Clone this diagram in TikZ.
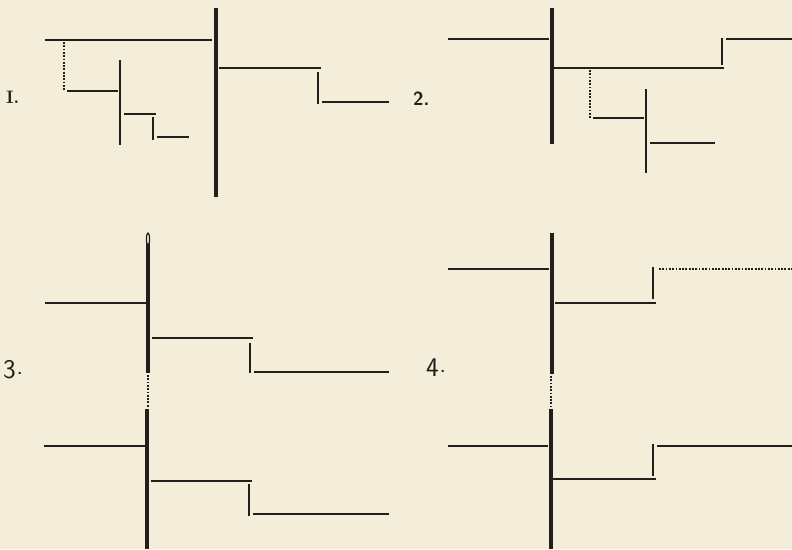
\documentclass[tikz,border=0pt]{standalone}
\usepackage{fontspec}
\definecolor{paper}{RGB}{244,237,218}
\definecolor{ink}{RGB}{35,30,28}
\tikzset{
  stem/.style={ink,line width=3.2pt},
  midstem/.style={ink,line width=2.6pt},
  riser/.style={ink,line width=1.6pt},
  rung/.style={ink,line width=1.3pt},
  dots/.style={ink,line width=1.5pt,dash pattern=on 1.8pt off 1.5pt},
  lab/.style={ink,inner sep=0pt,anchor=base west}
}
\begin{document}
\begin{tikzpicture}[x=1pt,y=-1pt]
\fill[paper] (0,0) rectangle (792,549);
\useasboundingbox (0,0) rectangle (792,549);
% ---------- Figure 1 ----------
\node[lab,font=\fontsize{18}{18}\selectfont\bfseries] (l1) at (6,103) {I.};
\draw[rung] (45,40) -- (212,40);
\draw[stem] (216,8) -- (216,197);
\draw[dots] (64,42) -- (64,91);
\draw[rung] (67,91) -- (118,91);
\draw[midstem] (120,60) -- (120,145);
\draw[rung] (124,114) -- (156,114);
\draw[riser] (153,117) -- (153,140);
\draw[rung] (157,137) -- (189,137);
\draw[rung] (219,68) -- (321,68);
\draw[riser] (318,72) -- (318,104);
\draw[rung] (322,102) -- (389,102);
% ---------- Figure 2 ----------
\node[lab,font=\fontsize{19}{19}\sffamily\bfseries] (l2) at (413,105) {2.};
\draw[rung] (448,39) -- (549,39);
\draw[stem] (552,8) -- (552,144);
\draw[rung] (554,68) -- (724,68);
\draw[riser] (722,38) -- (722,65);
\draw[rung] (726,39) -- (792,39);
\draw[dots] (590,70) -- (590,119);
\draw[rung] (593,118) -- (644,118);
\draw[midstem] (646,89) -- (646,173);
\draw[rung] (650,143) -- (715,143);
% ---------- Figure 3 ----------
\node[lab,font=\fontsize{27}{27}\sffamily] (l3) at (3,378) {3\kern1.5pt\raisebox{0.3ex}{\fontsize{16}{16}\selectfont\bfseries.}};
\draw[stem] (148,236) -- (148,373);
\draw[ink,line width=1.2pt,fill=paper] (148,239) ellipse (1.6pt and 6pt);
\draw[dots] (148,375) -- (148,407);
\draw[stem] (147,409) -- (147,549);
\draw[rung] (45,303) -- (146,303);
\draw[rung] (152,338) -- (253,338);
\draw[riser] (250,343) -- (250,373);
\draw[rung] (254,372) -- (389,372);
\draw[rung] (44,446) -- (145,446);
\draw[rung] (151,481) -- (252,481);
\draw[riser] (249,484) -- (249,516);
\draw[rung] (253,514) -- (389,514);
% ---------- Figure 4 ----------
\node[lab,font=\fontsize{27}{27}\sffamily] (l4) at (426,376) {4\kern1.5pt\raisebox{0.3ex}{\fontsize{16}{16}\selectfont\bfseries.}};
\draw[stem] (552,233) -- (552,374);
\draw[dots] (551,376) -- (551,407);
\draw[stem] (551,409) -- (551,549);
\draw[rung] (448,269) -- (549,269);
\draw[rung] (555,303) -- (656,303);
\draw[riser] (653,267) -- (653,299);
\draw[dots] (659,269) -- (792,269);
\draw[rung] (448,446) -- (548,446);
\draw[rung] (553,479) -- (656,479);
\draw[riser] (653,444) -- (653,476);
\draw[rung] (657,446) -- (792,446);
\end{tikzpicture}
\end{document}
